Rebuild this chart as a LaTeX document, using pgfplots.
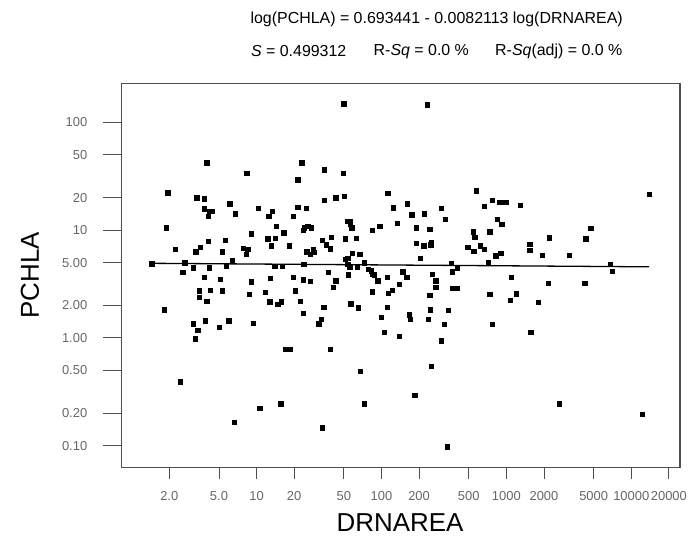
\documentclass[border=0pt]{standalone}
\usepackage{pgfplots}
\pgfplotsset{compat=1.18}
\usepackage{fontspec}
\setmainfont{Liberation Sans}
\definecolor{ticklab}{HTML}{666666}
\definecolor{boxcol}{HTML}{505050}
\begin{document}
\begin{tikzpicture}[x=1bp,y=1bp]
\path[use as bounding box] (-121.7,-68.7) rectangle (566.3,467.3);
\begin{axis}[
  at={(0,0)}, anchor=south west,
  scale only axis, width=558.3bp, height=383.8bp,
  xmode=log, ymode=log,
  xmin=0.832, xmax=24550, ymin=0.0631, ymax=229,
  axis line style={boxcol, line width=1.1bp},
  tick align=outside,
  xtick pos=left, ytick pos=left,
  major tick length=12bp,
  tick style={boxcol, line width=0.9bp},
  xtick={2,5,10,20,50,100,200,500,1000,2000,5000,10000,20000},
  xticklabels={2.0,5.0,10,20,50,100,200,500,1000,2000,5000,10000,20000},
  ytick={0.1,0.2,0.5,1,2,5,10,20,50,100},
  yticklabels={0.10,0.20,0.50,1.00,2.00,5.00,10,20,50,100},
  minor xtick={}, minor ytick={},
  ticklabel style={font=\fontsize{13}{13}\selectfont, text=ticklab},
  yticklabel style={xshift=-19bp},
  xticklabel style={yshift=-8.5bp},
  clip=false,
]
\coordinate (yta) at (axis cs:0.832,0.1);
\coordinate (ytb) at (axis cs:0.832,0.2);
\coordinate (ytc) at (axis cs:0.832,0.5);
\coordinate (ytd) at (axis cs:0.832,1);
\coordinate (yte) at (axis cs:0.832,2);
\coordinate (ytf) at (axis cs:0.832,5);
\coordinate (ytg) at (axis cs:0.832,10);
\coordinate (yth) at (axis cs:0.832,20);
\coordinate (yti) at (axis cs:0.832,50);
\coordinate (ytj) at (axis cs:0.832,100);
\addplot[only marks, mark=square*, mark size=2.2bp, black] table[row sep=\\] {
x y\\
50 149\\ 3.98 42.2\\ 23.0 42.2\\ 8.33 33.9\\ 34.8 36.3\\ 49.4 33.9\\ 21.3 29.3\\ 1.94 22.2\\
112 21.9\\ 3.31 20.0\\ 3.81 19.5\\ 34.8 18.9\\ 43.0 20.0\\ 50.1 20.6\\ 6.09 17.6\\ 3.81 15.8\\
4.16 14.9\\ 4.42 14.9\\ 4.10 13.4\\ 6.75 14.2\\ 10.3 16.0\\ 13.3 14.9\\ 12.5 13.4\\ 21.3 16.3\\
24.9 16.0\\ 19.7 13.4\\ 124 16.1\\ 133 11.6\\ 1.88 10.5\\ 14.3 10.9\\ 9.02 9.26\\ 16.5 9.46\\
24.1 10.5\\ 25.7 10.8\\ 27.3 10.5\\ 23.7 10.0\\ 53.6 12.1\\ 56.2 12.1\\ 56.2 11.4\\ 57.7 10.5\\
83.9 10.0\\ 96.7 10.8\\ 2.23 6.68\\ 3.25 6.30\\ 3.52 6.92\\ 4.10 7.87\\ 5.28 6.30\\ 5.61 8.04\\
6.35 5.28\\ 7.78 6.82\\ 8.48 6.68\\ 8.27 6.00\\ 12.3 8.32\\ 14.1 8.45\\ 13.1 7.17\\ 18.2 7.17\\
33.4 8.04\\ 39.6 8.63\\ 36.1 7.32\\ 38.7 6.72\\ 25.2 6.30\\ 26.8 6.00\\ 28.4 6.58\\ 29.0 6.22\\
51.0 8.32\\ 62.5 8.45\\ 58.4 6.09\\ 66.9 6.00\\ 51.0 5.36\\ 53.6 5.47\\ 1.45 4.88\\ 2.66 4.98\\
23.8 4.82\\ 53.6 4.82\\ 55.6 4.58\\ 72.8 4.98\\ 3.10 4.48\\ 4.18 4.48\\ 5.72 4.65\\ 14.0 4.65\\
16.1 4.65\\ 63.7 4.58\\ 78.4 4.33\\ 82.4 4.20\\ 2.57 4.06\\ 37.3 4.06\\ 83.9 3.91\\ 87.5 3.86\\
54.2 3.86\\
3.81 3.65\\ 5.12 3.52\\ 9.02 3.32\\ 12.9 3.57\\ 19.7 3.65\\ 23.7 3.47\\ 26.8 3.35\\ 43.0 3.39\\
93.2 3.39\\ 111 3.65\\ 139 3.16\\ 3.46 2.74\\ 4.24 2.78\\ 5.28 2.74\\ 3.46 2.39\\ 3.98 2.20\\
1.82 1.83\\ 8.69 2.54\\ 11.7 2.65\\ 12.7 2.17\\ 14.8 2.05\\ 15.7 2.17\\ 20.3 2.74\\ 22.3 2.20\\
23.7 1.70\\ 34.4 1.93\\ 40.9 2.95\\ 56.7 2.08\\ 65.2 1.91\\ 83.9 2.68\\ 113 2.59\\ 122 2.78\\
111 1.93\\ 99.6 1.55\\ 105 1.13\\ 138 1.04\\ 3.11 1.35\\ 3.38 1.18\\ 3.21 0.983\\ 3.86 1.44\\
5.03 1.25\\ 5.98 1.44\\ 9.41 1.37\\ 32.8 1.50\\ 31.4 1.35\\ 16.9 0.789\\ 18.4 0.789\\ 38.9 0.789\\
2.45 0.392\\ 67.3 0.490\\ 15.6 0.245\\ 10.6 0.224\\ 72.8 0.245\\ 6.59 0.165\\ 33.4 0.147\\
231 146\\ 574 23.1\\ 13870 21.5\\ 161 17.6\\ 771 18.9\\ 884 18.2\\ 987 18.2\\ 662 16.6\\
1292 17.0\\ 301 16.0\\ 175 13.9\\ 220 14.2\\ 322 12.7\\ 846 12.7\\ 917 11.3\\ 189 10.5\\
243 10.2\\ 543 9.66\\ 557 8.63\\ 735 9.66\\ 4730 10.4\\ 4315 8.32\\ 2193 8.50\\ 189 7.59\\
218 7.17\\ 250 7.76\\ 248 7.32\\ 490 6.92\\ 618 7.17\\ 662 6.68\\ 547 6.36\\ 1537 7.43\\
1537 6.54\\ 1938 5.87\\ 3190 5.87\\ 821 5.79\\ 900 6.09\\ 205 5.47\\ 712 5.06\\ 362 4.92\\
404 4.42\\ 369 4.11\\ 6750 4.82\\ 7046 4.15\\ 148 4.11\\ 254 3.91\\
159 3.65\\ 272 3.39\\ 272 2.95\\ 369 2.88\\ 400 2.88\\ 1088 3.65\\ 2164 3.23\\ 4236 3.23\\
243 2.50\\ 735 2.54\\ 1194 2.57\\ 1075 2.23\\ 1791 2.15\\ 246 1.83\\ 343 1.80\\ 167 1.64\\
170 1.50\\ 236 1.50\\ 316 1.34\\ 771 1.34\\ 1565 1.13\\ 301 0.942\\ 250 0.549\\ 185 0.295\\
2652 0.245\\ 12250 0.197\\ 336 0.098\\
};
\addplot[black, line width=1.3bp] coordinates {(1.45,4.921) (13870,4.565)};
\end{axis}
\foreach \n in {a,b,c,d,e,f,g,h,i,j} {
  \draw[boxcol, line width=1bp] (yt\n) -- ++(-19,0);
}
\node[font=\fontsize{16}{16}\selectfont] at (315,447.5) {log(PCHLA) = 0.693441 - 0.0082113 log(DRNAREA)};
\node[font=\fontsize{16}{16}\selectfont] at (177,416) {\textit{S} = 0.499312};
\node[font=\fontsize{16}{16}\selectfont] at (299.6,416) {R-\textit{Sq} = 0.0 \%};
\node[font=\fontsize{16}{16}\selectfont] at (437.1,416) {R-\textit{Sq}(adj) = 0.0 \%};
\node[font=\fontsize{26}{26}\selectfont] at (278.3,-55.2) {DRNAREA};
\node[font=\fontsize{26}{26}\selectfont, rotate=90] at (-91.7,191.9) {PCHLA};
\end{tikzpicture}
\end{document}
